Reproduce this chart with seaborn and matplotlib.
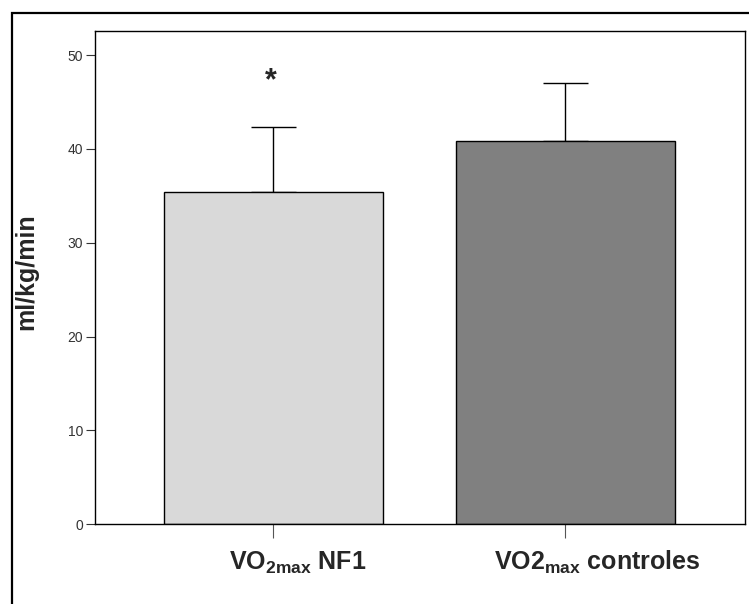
import matplotlib
matplotlib.use("Agg")
import matplotlib.pyplot as plt
import seaborn as sns
import pandas as pd
from matplotlib.patches import Rectangle
from matplotlib.transforms import ScaledTranslation

# Data
categories = [r"VO$_{\mathbf{2max}}$ NF1", r"VO2$_{\mathbf{max}}$ controles"]
means = [35.4, 40.8]
upper_err = [6.9, 6.2]
bar_colors = ["#d9d9d9", "#808080"]
y_ticks = [0, 10, 20, 30, 40, 50]
y_label = "ml/kg/min"
annotation = "*"
annotation_y = 47.2

sns.set_style("white")
plt.rcParams["font.family"] = ["Liberation Sans", "DejaVu Sans"]
plt.rcParams["mathtext.fontset"] = "custom"
plt.rcParams["mathtext.rm"] = "Liberation Sans"
plt.rcParams["mathtext.bf"] = "Liberation Sans:bold"
plt.rcParams["mathtext.it"] = "Liberation Sans:italic"

W, H = 749, 604
fig = plt.figure(figsize=(W / 100, H / 100), dpi=100)
ax = fig.add_axes([95 / W, (H - 524.3) / H, (744.7 - 95) / W, (524.3 - 30.7) / H])

df = pd.DataFrame({"cat": categories, "val": means})
sns.barplot(data=df, x="cat", y="val", hue="cat", palette=bar_colors,
            edgecolor="black", linewidth=1.0, width=0.75, errorbar=None,
            legend=False, ax=ax, zorder=2)
ax.errorbar(x=[0, 1], y=means, yerr=[[0, 0], upper_err], fmt="none",
            ecolor="black", elinewidth=1.0, capsize=16.2, capthick=1.0, zorder=1)

ax.set_xlim(-0.611, 1.615)
ax.set_ylim(0, 52.59)
ax.set_yticks(y_ticks)
ax.set_yticklabels([str(t) for t in y_ticks], fontsize=10, color="#333333")
ax.set_xticks([0, 1])
ax.set_xticklabels(categories, fontsize=18, fontweight="bold")
ax.tick_params(axis="y", direction="out", length=6.5, width=0.8, color="#333333", pad=2, left=True)
ax.tick_params(axis="x", direction="out", length=10, width=0.8, color="#555555", pad=8, bottom=True)
# labels in the reference sit right of their ticks
for lab, dx in zip(ax.get_xticklabels(), [24, 32]):
    lab.set_transform(lab.get_transform() + ScaledTranslation(dx / 100, 0, fig.dpi_scale_trans))
ax.set_xlabel("")
ax.set_ylabel(y_label, fontsize=18, fontweight="bold")
ax.yaxis.set_label_coords(-0.0877, 0.511)

for s in ax.spines.values():
    s.set_visible(True)
    s.set_color("black")
    s.set_linewidth(1.0)

ax.text(-0.008, annotation_y, annotation, ha="center", va="center", fontsize=22, fontweight="bold")

fig.patches.append(Rectangle((11.5 / W, -0.1), 1.2, 1.1 - 12.5 / H,
                             transform=fig.transFigure, fill=False,
                             edgecolor="black", linewidth=1.6, zorder=10))

fig.savefig("out.png", dpi=100)
